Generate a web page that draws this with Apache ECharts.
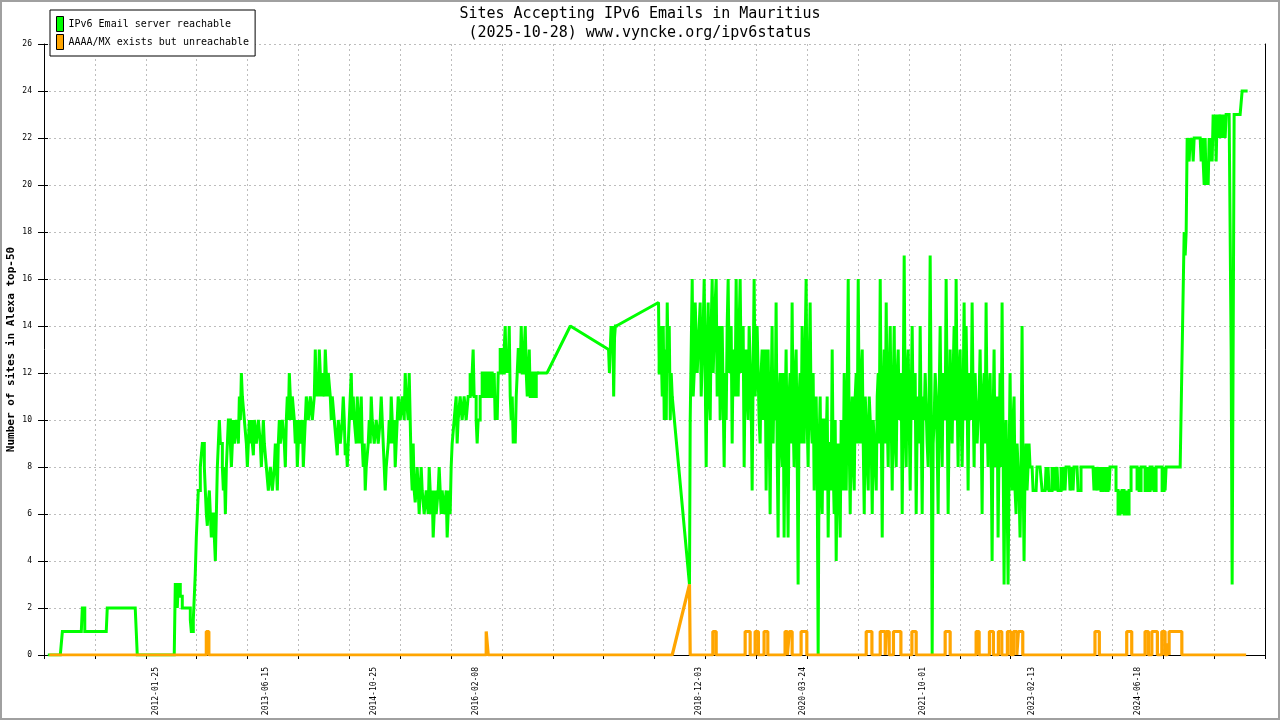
<!DOCTYPE html>
<html><head><meta charset="utf-8">
<script src="https://cdn.jsdelivr.net/npm/echarts@6/dist/echarts.min.js"></script>
<style>html,body{margin:0;padding:0;background:#fff}#chart{width:1280px;height:720px}</style>
</head><body><div id="chart"></div>
<script>
const MONO = 'DejaVu Sans Mono';
const chartTitle = 'Sites Accepting IPv6 Emails in Mauritius\n(2025-10-28) www.vyncke.org/ipv6status';
const seriesNames = ['IPv6 Email server reachable', 'AAAA/MX exists but unreachable'];
const yAxisName = 'Number of sites in Alexa top-50';
const xTickLabels = ['2012-01-25','2013-06-15','2014-10-25','2016-02-08','2018-12-03','2020-03-24','2021-10-01','2023-02-13','2024-06-18'];
const xRange = ['2010-08-27', '2026-01-23'];
const xTickCount = 24;
const yMax = 26, yStep = 2;

// Green series (decimal years). Sparse points:
const greenEarly = [[2010.719,0],[2010.858,0],[2010.871,0.5],[2010.884,1],[2011.123,1],[2011.136,2],[2011.155,2],[2011.167,1],[2011.438,1],[2011.451,2],[2011.804,2],[2011.817,1],[2011.830,0],[2012.296,0]];
const greenGap2017 = [[2016.999,12],[2017.293,14]];
const greenGap2018a = [[2018.407,15]];
const greenGap2018b = [[2018.798,3]];
// Regularly sampled stretches: [first sample, last sample] and values
const spanA = [2012.309, 2016.876];
const valuesA = [
 3,3,2,3,3,2.5,2.5,2,2,2,2,2,2,2,2,1.5,1,1,1.5,2.5,
 3.5,5,6,7,7,8,8.5,9,9,8,7,6,5.5,6.5,7,6,5,6,6,5,
 4,6,8,9,10,9,9,8,7,8,6,8,9,10,10,9,8,9,10,9,
 9,10,10,9,11,10,12,11,11,10,10,9,8,9,10,9,10,9,8.5,10,
 10,9,9,10,10,9,8,9,10,9,9,8,8,7,7,8,8,7,7,8,
 9,8,7,9,10,9,9,10,10,9,8,10,11,10,12,11,10,11,11,10,
 9,10,8,9,10,9,9,10,8,9,10,11,11,10,10,11,11,10,10,11,
 13,11,12,11,13,12,11,12,12,11,13,12,11,12,12,11,10,11,11,10,
 10,9,8.5,10,10,9,9,10,11,10,8.5,9,8,9,10,11,12,10,11,10,
 10,9,11,10,9,10,11,9,8,9,7,8,8,9,10,9,11,10,10,9,
 9,10,10,9,9,10,11,10,9,8,7,8,8,9,10,9,11,10,9,10,
 8,9,10,11,11,10,10,11,11,10,12,11,11,10,12,10,8,7,9,7,
 6.5,7,8,7,6,7,8,7,7,6,6,7,7,6,8,7,6,7,5,6,
 7,6,6,7,8,7,6,7,7,6,6,7,5,6,7,6,8,9,9,10,
 10,11,9,10,10,11,11,10,10,11,11,10,10,11,11,12,11,12,13,11,
 11,10,9,10,10,11,11,12,12,11,11,12,12,11,11,12,12,11,11,12,
 10,11,10,12,12,13,13,12,12,13,14,12,13,12,14,11,10,11,9,10,
 9,11,12,13,13,12,14,12,12,13,14,12,11,12,13,11,11,12,12,11,
 11,12,12];
const spanB = [2017.776, 2017.873];
const valuesB = [13,12,13,14,13,14,11,13.5,14,14];
const spanC = [2018.416, 2018.580];
const valuesC = [12,14,13,11,14,10,13,10,15,12,14,10,12,11];
const spanD = [2018.807, 2023.096];
const valuesD = [
 10,13,16,11,12,15,15,12,13,14,15,11,11,14,16,12,8,13,15,11,
 10,14,16,12,12,15,16,11,13,14,10,13,14,11,8,12,10,14,16,12,
 12,14,9,13,13,11,16,12,11,14,16,12,12,14,8,12,13,11,10,14,
 14,11,7,12,16,11,12,14,14,10,9,12,13,10,10,13,7,11,13,10,
 6,11,14,9,12,10,15,9,5,11,12,9,8,12,5,10,13,9,5,11,
 12,9,15,10,8,12,13,9,3,11,12,9,14,10,9,13,16,10,8,12,
 15,10,9,12,7,10,11,8,0,9,11,7,6,10,10,7,9,11,5,9,
 9,7,13,8,6,10,4,8,9,7,5,10,9,7,12,9,7,11,16,9,
 6,10,11,8,7,11,12,9,16,10,9,12,13,9,6,11,10,8,7,11,
 11,9,6,10,10,8,7,11,12,9,16,10,5,11,13,9,15,10,8,12,
 14,10,7,11,14,9,8,12,13,10,10,12,6,11,17,10,8,12,13,10,
 7,11,14,10,10,12,6,10,11,9,14,10,6,11,10,12,12,9,8,11,
 17,11,0,9,10,12,11,9,6,11,14,10,8,12,12,10,16,11,6,10,
 13,10,9,12,14,10,16,11,8,12,13,10,8,11,15,10,14,11,7,12,
 12,10,15,11,8,12,12,9,9,11,13,10,6,11,12,9,15,10,8,11,
 12,9,4,10,13,8,8,11,5,9,12,8,15,9,3,9,10,7,3,8,
 12,8,7,10,11,7,6,9,9,7,5,8,14,8,4,8,9,7,7,9,
 8];
const spanE = [2023.109, 2024.976];
const valuesE = [
 8,8,7,7,7,7,8,8,8,8,
 8,7,7,7,7,8,7,8,7,7,
 7,8,7,8,7,7,8,7,7,7,
 8,7,7,8,7,8,8,8,8,7,
 7,8,7,8,8,8,8,7,7,7,
 8,8,8,8,8,8,8,8,8,8,
 8,8,8,7,8,7,7,8,7,8,
 7,7,8,7,8,7,7,8,7,8,
 8,8,8,8,8,7,7,6,6,7,
 6,7,7,6,6,7,6,6,7,7,
 8,8,8,8,8,8,7,8,7,7,
 8,8,8,8,7,7,8,7,7,8,
 8,7,8,7,7,8,8,8,8,8,
 8,7,7,8,7,8,8,8,8,8,
 8,8,8,8,8,8,8,8,8];
const spanF = [2024.989, 2025.822];
const valuesF = [
 8,10.5,13,15.5,18,17,18,22,22,21,
 22,21.5,22,21,22,22,22,22,22,22,
 22,21,22,21,20,22,20,21,20,22,
 21,22,21,23,22,23,21,23,22,23,
 23,22,23,22,23,22,23,23,23,23,
 23,13,3,3,23,23,23,23,23,23,
 23,23,24,24,24,24,24];

// Orange series: baseline 0 with spikes [start, end, height] and one ramp
const orangeRange = [2010.719, 2025.822];
const orangeSpikes = [
 [2012.700,2012.732,1],[2016.233,2016.258,1],
 [2019.093,2019.135,1],[2019.501,2019.564,1],[2019.627,2019.668,1],[2019.740,2019.787,1],
 [2020.005,2020.034,1],[2020.059,2020.094,1],[2020.207,2020.279,1],
 [2021.027,2021.099,1],[2021.204,2021.267,1],[2021.279,2021.317,1],[2021.371,2021.465,1],
 [2021.604,2021.658,1],[2022.024,2022.087,1],[2022.415,2022.453,1],[2022.583,2022.633,1],
 [2022.696,2022.739,1],[2022.810,2022.853,1],[2022.886,2022.929,1],[2022.949,2023.004,1],
 [2023.916,2023.971,1],[2024.316,2024.379,1],[2024.547,2024.589,1],[2024.632,2024.702,1],
 [2024.758,2024.799,1],[2024.828,2024.850,0.5],[2024.850,2025.010,1]];
const orangeRamp = [[2018.580,0],[2018.798,3],[2018.807,0]];

function yearToTs(y){const Y=Math.floor(y);const a=Date.UTC(Y,0,1),b=Date.UTC(Y+1,0,1);return a+(y-Y)*(b-a);}
function pts(arr){return arr.map(p=>[yearToTs(p[0]),p[1]]);}
function sampled(span,vals){const n=vals.length;return vals.map((v,i)=>[yearToTs(span[0]+(span[1]-span[0])*i/(n-1)),v]);}

const segA = sampled(spanA,valuesA), segB = sampled(spanB,valuesB), segC = sampled(spanC,valuesC);
const segDEF = [].concat(sampled(spanD,valuesD), sampled(spanE,valuesE), sampled(spanF,valuesF));
// daily-sampled stretches (drawn as steps, like dense daily data)
const greenSteps = [[].concat(pts(greenEarly), segA), segB, segC, segDEF];
// stretches with missing samples: plain straight joins
const greenJoins = [
  [segA[segA.length-1]].concat(pts(greenGap2017), [segB[0]]),
  [segB[segB.length-1]].concat(pts(greenGap2018a), [segC[0]]),
  [segC[segC.length-1]].concat(pts(greenGap2018b), [segDEF[0]])
];

let orangePts = [[orangeRange[0],0]];
orangeSpikes.forEach(s=>{orangePts.push([s[0],0],[s[0],s[2]],[s[1],s[2]],[s[1],0]);});
orangeRamp.forEach(p=>orangePts.push(p));
orangePts.push([orangeRange[1],0]);
orangePts.sort((a,b)=>a[0]-b[0]);
const orangeData = pts(orangePts);

const toTs = d => Date.parse(d+'T00:00:00Z');
const labelTs = xTickLabels.map(toTs);
const xMin = toTs(xRange[0]), xMax = toTs(xRange[1]);
function labelFor(v){let best=-1,bd=Infinity;labelTs.forEach((t,i)=>{const d=Math.abs(t-v);if(d<bd){bd=d;best=i;}});return bd<86400000?xTickLabels[best]:'';}

const GREEN = '#00ff00', ORANGE = '#ffa500';
const series = [];
greenSteps.forEach(d=>series.push({name:seriesNames[0], type:'line', step:'end', data:d, showSymbol:false, symbol:'none',
  itemStyle:{color:GREEN}, lineStyle:{color:GREEN, width:3, join:'miter', cap:'square'}, z:2}));
greenJoins.forEach(d=>series.push({name:seriesNames[0], type:'line', data:d, showSymbol:false, symbol:'none',
  itemStyle:{color:GREEN}, lineStyle:{color:GREEN, width:3}, z:2}));
series.push({name:seriesNames[1], type:'line', data:orangeData, showSymbol:false, symbol:'none',
  itemStyle:{color:ORANGE}, lineStyle:{color:ORANGE, width:3.2}, z:3});

const gridLine = {show:true, showMinLine:false, showMaxLine:true, lineStyle:{color:'#bdbdbd', width:1, type:[2,3]}};
const chart = echarts.init(document.getElementById('chart'), null, {renderer:'canvas'});
chart.setOption({
  animation:false,
  backgroundColor:'#fff',
  graphic:[{type:'rect', silent:true, shape:{x:1,y:1,width:1278,height:718}, style:{fill:'none',stroke:'#a0a0a0',lineWidth:2}}],
  title:{text:chartTitle, left:'center', top:5, padding:0,
    textStyle:{fontFamily:MONO, fontSize:15, fontWeight:'normal', color:'#000', lineHeight:19}},
  legend:{left:50, top:10, orient:'vertical', icon:'rect', itemWidth:7, itemHeight:15, itemGap:2,
    padding:[6,6,6,6], borderColor:'#000', borderWidth:1, backgroundColor:'#fff',
    itemStyle:{borderColor:'#000', borderWidth:1},
    textStyle:{fontFamily:MONO, fontSize:10, color:'#000'}, data:seriesNames},
  grid:{left:44, right:15, top:44, bottom:65, containLabel:false, outerBoundsMode:'none'},
  xAxis:[
    {type:'value', min:xMin, max:xMax, position:'bottom', scale:true,
     axisLine:{show:true, onZero:false, lineStyle:{color:'#000', width:1}}, axisTick:{show:false}, splitLine:{show:false},
     axisLabel:{customValues:labelTs, rotate:90, margin:12, fontFamily:MONO, fontSize:8, color:'#000',
       formatter:v=>labelFor(v), hideOverlap:false, showMinLabel:true, showMaxLabel:true}},
    {type:'value', min:0, max:xTickCount, interval:1, position:'bottom',
     axisLine:{show:false, onZero:false}, axisTick:{show:true, length:4, lineStyle:{color:'#000'}},
     axisLabel:{show:false}, splitLine:gridLine}
  ],
  yAxis:[
    {type:'value', min:0, max:yMax, interval:yStep, position:'left',
     name:yAxisName, nameLocation:'middle', nameRotate:90, nameGap:27, nameMoveOverlap:false,
     nameTextStyle:{fontFamily:MONO, fontSize:11, fontWeight:'bold', color:'#000'},
     axisLine:{show:true, onZero:false, lineStyle:{color:'#000', width:1}}, axisTick:{show:true, length:6, lineStyle:{color:'#000'}},
     axisLabel:{margin:12, fontFamily:MONO, fontSize:8, color:'#000'}, splitLine:gridLine},
    {type:'value', min:0, max:yMax, interval:yStep, position:'right',
     axisLine:{show:true, onZero:false, lineStyle:{color:'#000', width:1}}, axisTick:{show:false},
     axisLabel:{show:false}, splitLine:{show:false}},
    {type:'value', min:0, max:yMax, interval:yStep, position:'left',
     axisLine:{show:false, onZero:false}, axisTick:{show:true, inside:true, length:4, lineStyle:{color:'#000'}},
     axisLabel:{show:false}, splitLine:{show:false}}
  ],
  series:series
});
</script></body></html>
